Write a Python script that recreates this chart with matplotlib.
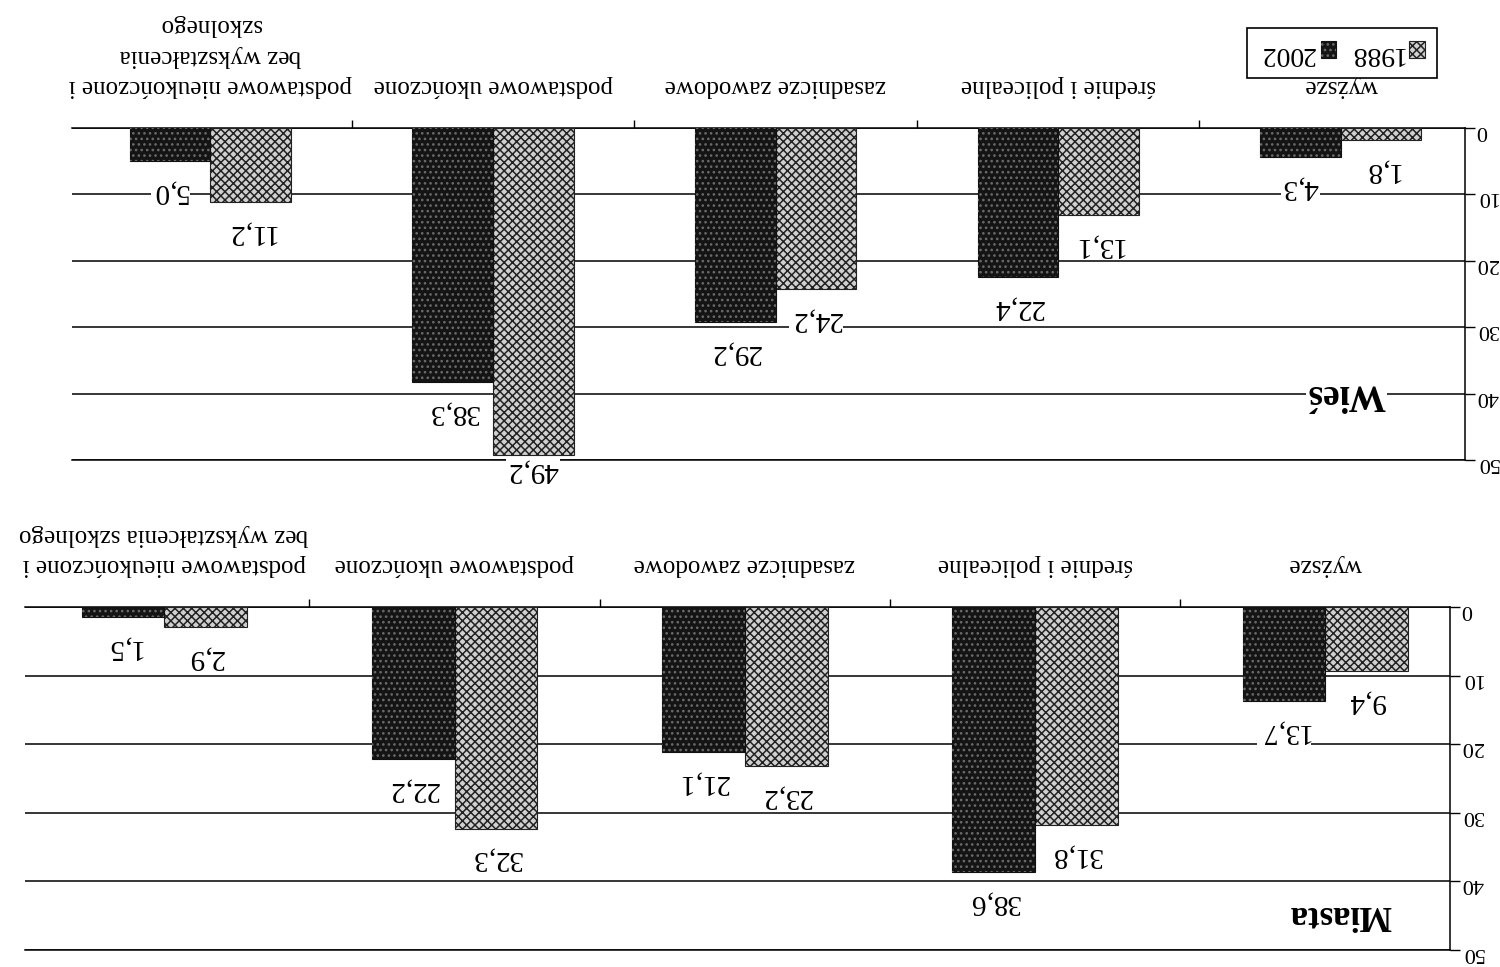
import numpy as np
import matplotlib
matplotlib.use("Agg")
import matplotlib.pyplot as plt
import matplotlib.patches as mpatches

plt.rcParams['font.family'] = ['Liberation Serif', 'DejaVu Serif']
plt.rcParams['hatch.linewidth'] = 1.1

# =============================================================================
# Dane (procent ludnosci wg wyksztalcenia)
# =============================================================================
categories = ['wyższe', 'średnie i policealne', 'zasadnicze zawodowe',
              'podstawowe ukończone', 'podstawowe nieukończone i\nbez wykształcenia\nszkolnego']
categories_miasta = ['wyższe', 'średnie i policealne', 'zasadnicze zawodowe',
                     'podstawowe ukończone', 'podstawowe nieukończone i\nbez wykształcenia szkolnego']

wies_1988 = [1.8, 13.1, 24.2, 49.2, 11.2]
wies_2002 = [4.3, 22.4, 29.2, 38.3, 5.0]
wies_lab_1988 = ['1,8', '13,1', '24,2', '49,2', '11,2']
wies_lab_2002 = ['4,3', '22,4', '29,2', '38,3', '5,0']

miasta_1988 = [9.4, 31.8, 23.2, 32.3, 2.9]
miasta_2002 = [13.7, 38.6, 21.1, 22.2, 1.5]
miasta_lab_1988 = ['9,4', '31,8', '23,2', '32,3', '2,9']
miasta_lab_2002 = ['13,7', '38,6', '21,1', '22,2', '1,5']

yticks = [0, 10, 20, 30, 40, 50]

# =============================================================================
# Wykres (obrocony o 180 stopni, jak na skanie)
# =============================================================================
fig = plt.figure(figsize=(15, 9.67), dpi=100)
ax1 = fig.add_axes([0.048, 0.5243, 0.9287, 0.3433])
ax2 = fig.add_axes([0.0167, 0.0176, 0.95, 0.3547])

w = 0.285
light_kw = dict(facecolor='#d0d0d0', edgecolor='#222222', hatch='xxxx', linewidth=0.8)
dark_kw = dict(facecolor='#141414', edgecolor='#111111', linewidth=0.8)
dark_dots = dict(facecolor='none', edgecolor='#6a6a6a', hatch='...', linewidth=0)


def draw_panel(ax, cats, v88, v02, l88, l02, xlim, title, title_pos, title_size):
    x = np.arange(len(cats))
    ax.bar(x - w / 2, v88, w, zorder=3, **light_kw)
    ax.bar(x + w / 2, v02, w, zorder=3, **dark_kw)
    ax.bar(x + w / 2, v02, w, zorder=4, **dark_dots)

    ax.set_xlim(*xlim)
    ax.set_ylim(50, 0)
    ax.yaxis.tick_right()
    ax.xaxis.tick_top()
    ax.set_yticks(yticks)
    ax.set_yticklabels([str(t) for t in yticks], rotation=180, fontsize=16)
    ax.set_xticks(x)
    ax.set_xticklabels(cats, rotation=180, fontsize=18, linespacing=1.5)
    ax.set_xticks(x[:-1] + 0.5, minor=True)
    ax.tick_params(axis='x', which='major', length=0, pad=22)
    ax.tick_params(axis='x', which='minor', length=6, width=1, direction='out')
    ax.tick_params(axis='y', length=7, width=1, direction='out', pad=1)
    ax.grid(axis='y', color='black', linewidth=1.1, zorder=0)
    ax.set_axisbelow(True)
    ax.spines['left'].set_visible(False)
    for s in ['top', 'right', 'bottom']:
        ax.spines[s].set_linewidth(1.1)

    ppu = ax.get_window_extent().height / 50 * 72 / fig.dpi
    for xs, vals, labs in ((x - w / 2, v88, l88), (x + w / 2, v02, l02)):
        for xi, v, lab in zip(xs, vals, labs):
            off = min(22, (50 - v) * ppu + 8)
            ax.annotate(lab, (xi, v), xytext=(0, -off), textcoords='offset points',
                        ha='center', va='center', rotation=180, fontsize=21,
                        bbox=dict(facecolor='white', edgecolor='none', pad=1), zorder=5)

    ax.text(title_pos[0], title_pos[1], title, rotation=180, ha='center', va='center',
            fontsize=title_size, fontweight='bold',
            bbox=dict(facecolor='white', edgecolor='none', pad=1), zorder=5)


draw_panel(ax1, categories, wies_1988, wies_2002, wies_lab_1988, wies_lab_2002,
           (4.49, -0.44), 'Wieś', (-0.02, 40.2), 27)
draw_panel(ax2, categories_miasta, miasta_1988, miasta_2002, miasta_lab_1988, miasta_lab_2002,
           (4.48, -0.43), 'Miasta', (-0.05, 44.9), 25)

h88 = mpatches.Patch(**light_kw)
h02 = (mpatches.Patch(**dark_kw), mpatches.Patch(**dark_dots))
leg = fig.legend(handles=[h02, h88], labels=['2002', '1988'], ncol=2, markerfirst=False,
                 loc='upper right', bbox_to_anchor=(0.958, 0.971), borderaxespad=0,
                 fontsize=20, fancybox=False, edgecolor='black', framealpha=1,
                 handlelength=0.55, handleheight=0.55, handletextpad=0.2, columnspacing=0.45,
                 borderpad=0.45)
leg.get_frame().set_linewidth(1.2)
for t in leg.get_texts():
    t.set_rotation(180)

fig.savefig('out.png', dpi=100)
